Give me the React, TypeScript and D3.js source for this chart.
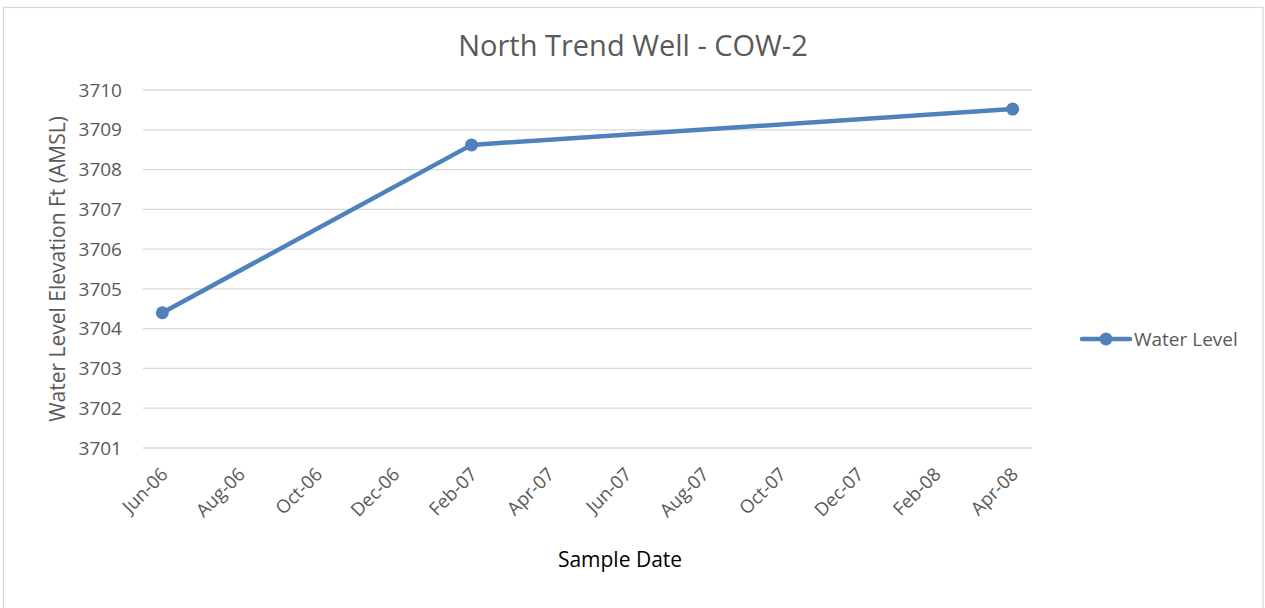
import React from "react";
import * as d3 from "d3";

const title = "North Trend Well - COW-2";
const seriesName = "Water Level";
const yAxisTitle = "Water Level Elevation Ft (AMSL)";
const xAxisTitle = "Sample Date";

// sample dates (year, month index 0-based) and water levels
const sampleDates = ["2006-06", "2007-02", "2008-04"];
const waterLevels = [3704.4, 3708.62, 3709.52];

const xTickLabels = [
  "Jun-06", "Aug-06", "Oct-06", "Dec-06", "Feb-07", "Apr-07",
  "Jun-07", "Aug-07", "Oct-07", "Dec-07", "Feb-08", "Apr-08",
];
const yTicks = [3701, 3702, 3703, 3704, 3705, 3706, 3707, 3708, 3709, 3710];

const W = 1265;
const H = 608;
const FONT = "'Open Sans', sans-serif";
const BLUE = "#4F81BD";
const GRID = "#D9D9D9";
const TXT = "#595959";

export default function App() {
  const parse = d3.timeParse("%Y-%m");
  const start = parse("2006-06")!;
  const monthIdx = (s: string) => d3.timeMonth.count(start, parse(s)!);

  const x = d3.scaleLinear().domain([-0.5, 22.5]).range([143, 1032]);
  const y = d3.scaleLinear().domain([3701, 3710]).range([448, 90]);

  const pts = sampleDates.map((s, i) => [x(monthIdx(s)), y(waterLevels[i])] as [number, number]);
  const line = d3.line()(pts) || "";

  return (
    <svg
      width={W}
      height={H}
      style={{ position: "absolute", left: 0, top: 0, background: "#fff" }}
      fontFamily={FONT}
    >
      <rect x={3.5} y={7.5} width={1259.5} height={620} fill="#fff" stroke="#D9D9D9" strokeWidth={1.3} />

      <text x={633} y={56} textAnchor="middle" fontSize={29} fill={TXT}>
        {title}
      </text>

      {yTicks.map((t) => (
        <g key={t}>
          <line x1={143} x2={1032} y1={y(t)} y2={y(t)} stroke={GRID} strokeWidth={1.3} />
          <text x={122} y={y(t)} dy="0.35em" textAnchor="end" fontSize={19} fill={TXT}>
            {t}
          </text>
        </g>
      ))}

      {xTickLabels.map((lab, i) => {
        const tx = x(i * 2);
        return (
          <text
            key={lab}
            transform={`translate(${tx + 2},${471}) rotate(-45)`}
            dy="0.35em"
            textAnchor="end"
            fontSize={18.5}
            fill={TXT}
          >
            {lab}
          </text>
        );
      })}

      <text
        transform={`translate(65,269) rotate(-90)`}
        textAnchor="middle"
        fontSize={21}
        fill={TXT}
      >
        {yAxisTitle}
      </text>

      <text x={620} y={567} textAnchor="middle" fontSize={21} fill="#000">
        {xAxisTitle}
      </text>

      <path d={line} fill="none" stroke={BLUE} strokeWidth={4.5} strokeLinejoin="round" strokeLinecap="round" />
      {pts.map((p, i) => (
        <circle key={i} cx={p[0]} cy={p[1]} r={6.5} fill={BLUE} />
      ))}

      <line x1={1082} x2={1130} y1={339} y2={339} stroke={BLUE} strokeWidth={4.5} strokeLinecap="round" />
      <circle cx={1106} cy={339} r={6.5} fill={BLUE} />
      <text x={1134} y={346} fontSize={19} fill={TXT}>
        {seriesName}
      </text>
    </svg>
  );
}
